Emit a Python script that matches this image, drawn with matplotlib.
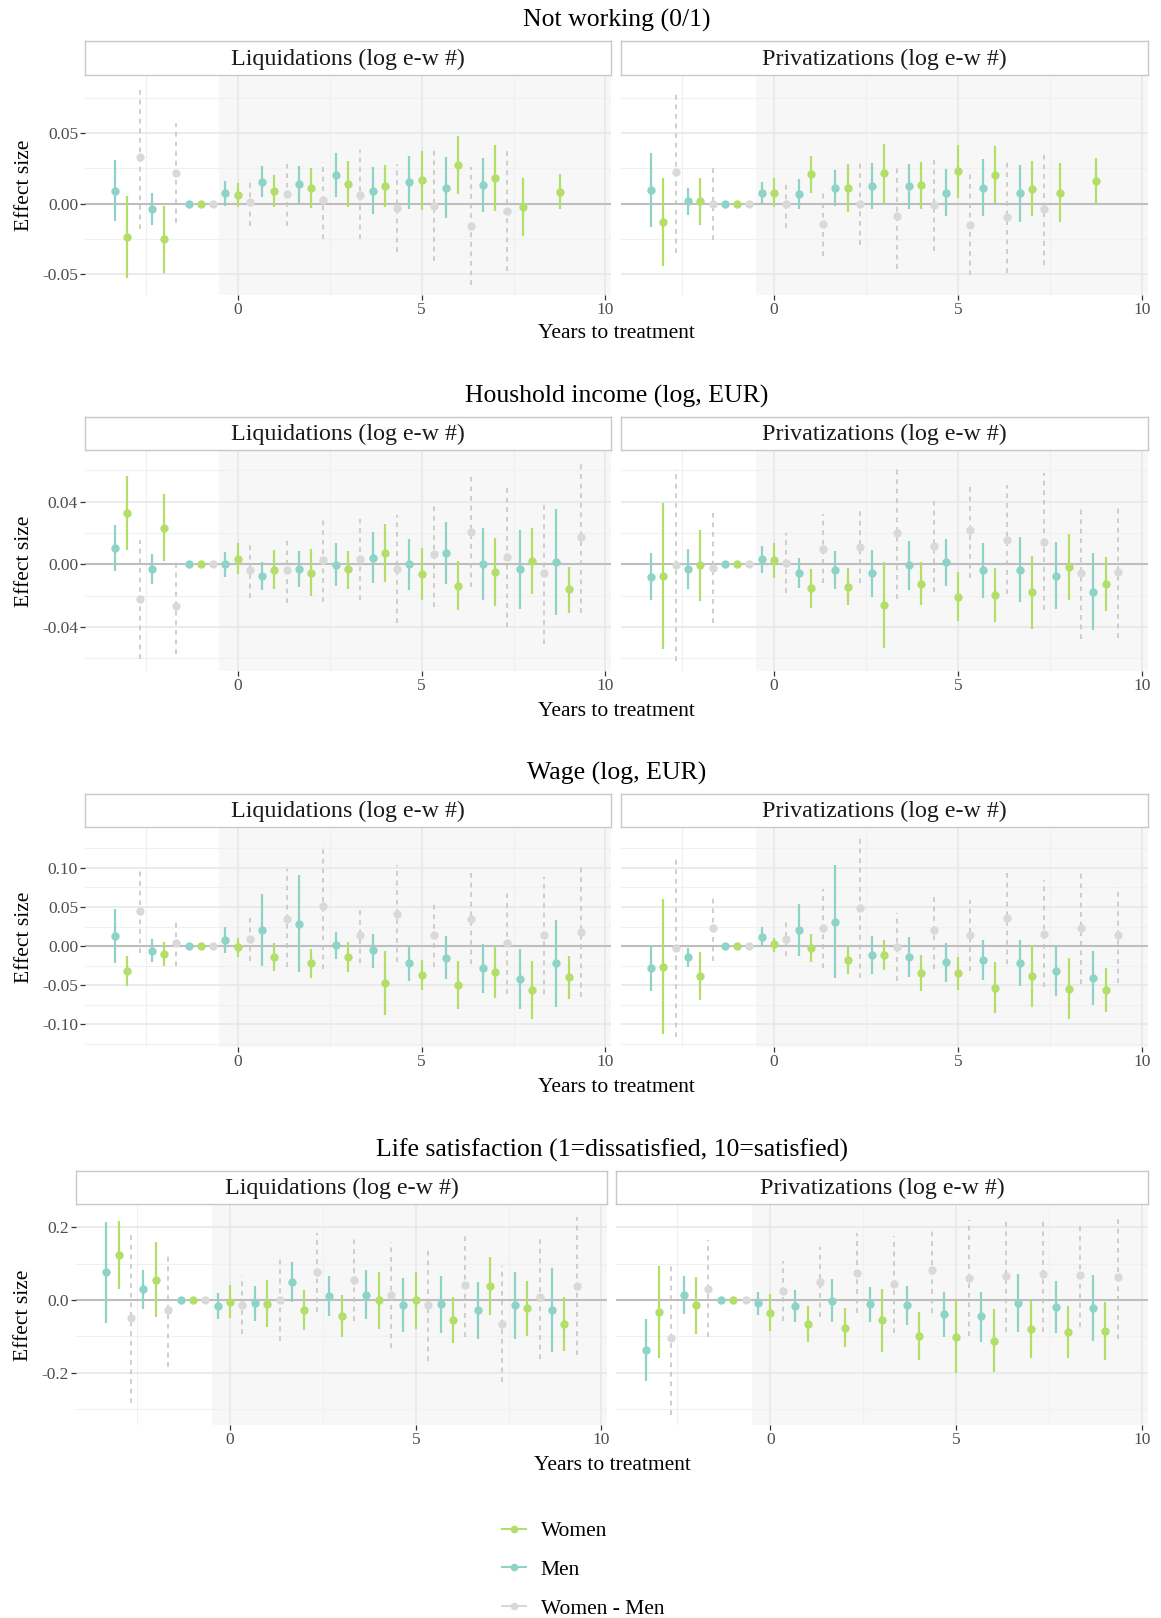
import numpy as np
import matplotlib
matplotlib.use('Agg')
import matplotlib.pyplot as plt
from matplotlib.patches import Rectangle
from matplotlib.lines import Line2D

plt.rcParams['font.family'] = ['Liberation Serif', 'DejaVu Serif']
plt.rcParams['axes.unicode_minus'] = False

NA = (np.nan, np.nan, np.nan)
event_time = list(range(-3, 10))

# (estimate, lower, upper) per event time -3..9; None = no row at that time
# Not working (0/1)
nw_liq_m = [(0.0093, -0.0121, 0.0306), (-0.0035, -0.015, 0.0077), (0, 0, 0), (0.0072, -0.0016, 0.0159),
            (0.0154, 0.0044, 0.0264), (0.0136, 0.0002, 0.0266), (0.0203, 0.0049, 0.0357), (0.0093, -0.007, 0.0259),
            (0.0152, -0.0035, 0.0339), (0.0114, -0.0098, 0.0329), (0.0133, -0.0058, 0.0325), None, None]
nw_liq_w = [(-0.0234, -0.0523, 0.0056), (-0.0252, -0.0488, -0.0016), (0, 0, 0), (0.0061, -0.0026, 0.0147),
            (0.0091, -0.0026, 0.0203), (0.0112, -0.0033, 0.0255), (0.014, -0.0026, 0.0299), (0.0124, -0.0026, 0.0271),
            (0.0166, -0.0044, 0.0374), (0.0271, 0.0068, 0.0477), (0.0182, -0.0051, 0.0418), (-0.0026, -0.0231, 0.0182),
            (0.0086, -0.004, 0.0213)]
nw_liq_d = [(0.0327, -0.018, 0.0832), (0.0217, -0.0133, 0.0568), (0, 0, 0), (0.0012, -0.0161, 0.0182),
            (0.0065, -0.0157, 0.0283), (0.0023, -0.025, 0.0292), (0.0063, -0.025, 0.0376), (-0.003, -0.0343, 0.0283),
            (-0.0014, -0.0407, 0.0381), (-0.0157, -0.0575, 0.0259), (-0.0051, -0.0477, 0.0376), NA, NA]
nw_pri_m = [(0.0096, -0.0166, 0.0357), (0.0016, -0.0082, 0.0112), (0, 0, 0), (0.0079, 0.0002, 0.0154),
            (0.007, -0.0037, 0.0171), (0.0114, -0.0014, 0.0241), (0.0126, -0.004, 0.029), (0.0124, -0.004, 0.0283),
            (0.0079, -0.0086, 0.0248), (0.0114, -0.0086, 0.0313), (0.0075, -0.0131, 0.0276), None, None]
nw_pri_w = [(-0.0129, -0.0437, 0.0178), (0.0016, -0.015, 0.0178), (0, 0, 0), (0.0079, -0.0021, 0.0182),
            (0.0208, 0.0079, 0.0336), (0.0114, -0.0056, 0.0283), (0.0215, 0.0002, 0.0425), (0.0133, -0.0037, 0.0297),
            (0.0231, 0.0042, 0.0418), (0.0206, 0.0002, 0.0407), (0.0107, -0.0086, 0.0304), (0.0079, -0.0131, 0.029),
            (0.0159, -0.0002, 0.0325)]
nw_pri_d = [(0.0224, -0.0348, 0.0797), (0.0, -0.0259, 0.0259), (0, 0, 0), (0.0, -0.0173, 0.0166),
            (-0.0143, -0.0371, 0.0084), (0.0, -0.0294, 0.0294), (-0.0089, -0.046, 0.0283), (-0.0009, -0.0336, 0.0313),
            (-0.015, -0.0507, 0.0208), (-0.0093, -0.0493, 0.0306), (-0.0037, -0.0435, 0.0357), NA, NA]

# Houshold income (log, EUR)
inc_liq_m = [(0.0102, -0.0045, 0.0249), (-0.003, -0.0126, 0.0064), (0, 0, 0), (0, -0.0081, 0.0079),
             (-0.0072, -0.0164, 0.0017), (-0.0028, -0.0143, 0.0087), (-0.0004, -0.0138, 0.0134), (0.0043, -0.0117, 0.0206),
             (0, -0.0164, 0.0162), (0.0074, -0.0123, 0.0272), (0, -0.0228, 0.0234), (-0.003, -0.0283, 0.0219),
             (0.0015, -0.0323, 0.0351)]
inc_liq_w = [(0.0328, 0.0094, 0.0562), (0.0234, 0.0021, 0.0447), (0, 0, 0), (0.0036, -0.0064, 0.0138),
             (-0.0034, -0.0155, 0.0089), (-0.0053, -0.0202, 0.0098), (-0.0032, -0.0155, 0.0087), (0.0074, -0.0111, 0.026),
             (-0.0062, -0.023, 0.0106), (-0.0136, -0.0291, 0.0021), (-0.0049, -0.0266, 0.0168), (0.0021, -0.0187, 0.023),
             (-0.016, -0.0309, -0.0015)]
inc_liq_d = [(-0.0223, -0.0602, 0.0153), (-0.0264, -0.0574, 0.0043), (0, 0, 0), (-0.0038, -0.0217, 0.0143),
             (-0.0038, -0.0249, 0.0172), (0.0028, -0.0238, 0.0287), (0.0032, -0.0228, 0.0287), (-0.003, -0.0377, 0.0313),
             (0.0064, -0.0272, 0.0389), (0.0209, -0.0143, 0.0564), (0.0049, -0.0398, 0.05), (-0.0053, -0.0511, 0.0404),
             (0.0174, -0.0309, 0.066)]
inc_pri_m = [(-0.0079, -0.0228, 0.007), (-0.0028, -0.0155, 0.0096), (0, 0, 0), (0.0032, -0.0053, 0.0117),
             (-0.0053, -0.0149, 0.0043), (-0.0034, -0.0155, 0.0085), (-0.0057, -0.0209, 0.0091), (-0.0004, -0.0164, 0.0149),
             (0.0013, -0.0138, 0.016), (-0.0034, -0.0213, 0.0138), (-0.0034, -0.024, 0.0172), (-0.0072, -0.0287, 0.0143),
             (-0.0174, -0.0419, 0.007)]
inc_pri_w = [(-0.0074, -0.0538, 0.0394), (-0.0006, -0.0234, 0.0219), (0, 0, 0), (0.0026, -0.0085, 0.0134),
             (-0.0153, -0.0277, -0.0028), (-0.0143, -0.0262, -0.0026), (-0.026, -0.0534, 0.0017), (-0.0123, -0.0262, 0.0015),
             (-0.0206, -0.0362, -0.0049), (-0.0196, -0.0368, -0.0021), (-0.0179, -0.0411, 0.0053), (-0.0019, -0.0228, 0.0191),
             (-0.0123, -0.0298, 0.0049)]
inc_pri_d = [(-0.0006, -0.0617, 0.0606), (-0.0023, -0.0372, 0.033), (0, 0, 0), (0.0006, -0.0185, 0.0198),
             (0.01, -0.0121, 0.0319), (0.0111, -0.0121, 0.0345), (0.0202, -0.0223, 0.0628), (0.0119, -0.0174, 0.0411),
             (0.0217, -0.0085, 0.0521), (0.0157, -0.0191, 0.0504), (0.0145, -0.0291, 0.0585), (-0.0053, -0.0474, 0.0372),
             (-0.0049, -0.0468, 0.0372)]

# Wage (log, EUR)
wage_liq_m = [(0.0131, -0.0216, 0.0479), (-0.0059, -0.0208, 0.0085), (0, 0, 0), (0.0081, -0.0089, 0.025),
              (0.0212, -0.025, 0.0669), (0.0284, -0.0335, 0.0903), (0.0008, -0.0165, 0.0186), (-0.0055, -0.0275, 0.0161),
              (-0.022, -0.0449, 0.0004), (-0.0148, -0.0419, 0.0123), (-0.0284, -0.0597, 0.0025), (-0.0424, -0.0809, -0.0038),
              (-0.022, -0.078, 0.0335)]
wage_liq_w = [(-0.0314, -0.0504, -0.0123), (-0.0097, -0.0258, 0.0055), (0, 0, 0), (-0.0017, -0.0136, 0.0102),
              (-0.014, -0.0314, 0.0038), (-0.022, -0.0411, -0.0038), (-0.014, -0.0326, 0.0047), (-0.0466, -0.0877, -0.0059),
              (-0.0369, -0.0555, -0.0178), (-0.0496, -0.0801, -0.0186), (-0.0326, -0.0665, 0.0004), (-0.0559, -0.0928, -0.0186),
              (-0.0398, -0.0674, -0.0131)]
wage_liq_d = [(0.0445, -0.0089, 0.0979), (0.0042, -0.0258, 0.0335), (0, 0, 0), (0.0089, -0.0195, 0.0373),
              (0.0352, -0.0271, 0.0979), (0.0508, -0.0292, 0.1309), (0.0144, -0.0216, 0.0513), (0.0415, -0.0208, 0.1038),
              (0.0144, -0.0271, 0.0555), (0.0347, -0.0229, 0.0928), (0.0042, -0.061, 0.0691), (0.0136, -0.061, 0.0886),
              (0.0178, -0.0653, 0.1013)]
wage_pri_m = [(-0.028, -0.0576, 0.0004), (-0.0144, -0.0271, -0.0025), (0, 0, 0), (0.0119, -0.0017, 0.025),
              (0.0203, -0.0131, 0.0542), (0.0314, -0.0411, 0.103), (-0.0114, -0.0356, 0.0123), (-0.014, -0.0398, 0.0119),
              (-0.0208, -0.0453, 0.0034), (-0.0174, -0.0432, 0.0081), (-0.0212, -0.0513, 0.0081), (-0.0318, -0.064, -0.0008),
              (-0.0411, -0.0758, -0.0068)]
wage_pri_w = [(-0.0263, -0.1119, 0.0597), (-0.0381, -0.0682, -0.008), (0, 0, 0), (0.0025, -0.0072, 0.011),
              (-0.0025, -0.0199, 0.0157), (-0.0174, -0.0356, -0.0008), (-0.011, -0.0301, 0.0081), (-0.0339, -0.0568, -0.0114),
              (-0.0343, -0.0555, -0.0136), (-0.0534, -0.0856, -0.0208), (-0.0377, -0.0771, 0.0017), (-0.0547, -0.0936, -0.0157),
              (-0.0555, -0.0835, -0.0284)]
wage_pri_d = [(-0.0021, -0.1161, 0.1127), (0.0237, -0.0186, 0.0661), (0, 0, 0), (0.0089, -0.0131, 0.0309),
              (0.0225, -0.0284, 0.0733), (0.0487, -0.0411, 0.1381), (-0.0008, -0.0441, 0.0419), (0.0203, -0.0292, 0.0691),
              (0.014, -0.0314, 0.0589), (0.0356, -0.0229, 0.0936), (0.0161, -0.0525, 0.0843), (0.0225, -0.0483, 0.0928),
              (0.0144, -0.047, 0.0758)]

# Life satisfaction
ls_liq_m = [(0.0771, -0.0624, 0.2156), (0.0294, -0.0257, 0.0826), (0, 0, 0), (-0.0165, -0.0523, 0.0183),
            (-0.0092, -0.0569, 0.0385), (0.0486, -0.0046, 0.1037), (0.0119, -0.044, 0.067), (0.0147, -0.0532, 0.0826),
            (-0.0138, -0.0881, 0.0596), (-0.0119, -0.0917, 0.067), (-0.0275, -0.1073, 0.0505), (-0.0147, -0.1083, 0.0761),
            (-0.0284, -0.1422, 0.0872)]
ls_liq_w = [(0.1248, 0.0294, 0.2183), (0.055, -0.0477, 0.1587), (0, 0, 0), (-0.0046, -0.0486, 0.0413),
            (-0.0101, -0.0752, 0.055), (-0.0275, -0.0826, 0.0275), (-0.045, -0.1028, 0.0138), (-0.0009, -0.0798, 0.078),
            (0, -0.0798, 0.078), (-0.0541, -0.1174, 0.0092), (0.0376, -0.0413, 0.1174), (-0.0229, -0.0982, 0.0523),
            (-0.0661, -0.1404, 0.0092)]
ls_liq_d = [(-0.0486, -0.2826, 0.1853), (-0.0275, -0.1853, 0.1303), (0, 0, 0), (-0.0138, -0.0936, 0.067),
            (0, -0.1128, 0.1128), (0.0771, -0.0321, 0.1853), (0.056, -0.0569, 0.1697), (0.0147, -0.133, 0.1606),
            (-0.0138, -0.167, 0.1394), (0.0413, -0.1028, 0.1853), (-0.0661, -0.2248, 0.0936), (0.0073, -0.1615, 0.1725),
            (0.0376, -0.1523, 0.2275)]
ls_pri_m = [(-0.1376, -0.222, -0.0523), (0.0147, -0.0385, 0.067), (0, 0, 0), (-0.0092, -0.0413, 0.0229),
            (-0.0165, -0.0615, 0.0275), (-0.0028, -0.0615, 0.0569), (-0.011, -0.0596, 0.0367), (-0.0147, -0.0688, 0.0385),
            (-0.0394, -0.1009, 0.0211), (-0.045, -0.1147, 0.0229), (-0.0092, -0.089, 0.0706), (-0.0183, -0.0899, 0.0532),
            (-0.0229, -0.1128, 0.0688)]
ls_pri_w = [(-0.0321, -0.1587, 0.0936), (-0.0147, -0.0945, 0.0642), (0, 0, 0), (-0.0349, -0.0853, 0.0165),
            (-0.0661, -0.1165, -0.0156), (-0.0761, -0.1303, -0.0229), (-0.055, -0.1422, 0.0294), (-0.0991, -0.1651, -0.0321),
            (-0.1009, -0.2, -0.0018), (-0.1119, -0.1991, -0.0257), (-0.0807, -0.1606, -0.0018), (-0.0872, -0.1587, -0.0156),
            (-0.0853, -0.1651, -0.0046)]
ls_pri_d = [(-0.1055, -0.3165, 0.1055), (0.0303, -0.1028, 0.1651), (0, 0, 0), (0.0248, -0.0569, 0.1083),
            (0.0495, -0.0459, 0.145), (0.0743, -0.0367, 0.1853), (0.044, -0.0899, 0.1761), (0.0826, -0.0367, 0.2018),
            (0.0615, -0.0991, 0.2202), (0.0661, -0.0872, 0.2202), (0.0716, -0.0872, 0.2294), (0.0688, -0.0752, 0.211),
            (0.0633, -0.1083, 0.2339)]

row_titles = ['Not working (0/1)', 'Houshold income (log, EUR)', 'Wage (log, EUR)',
              'Life satisfaction (1=dissatisfied, 10=satisfied)']
strip_labels = ['Liquidations (log e-w #)', 'Privatizations (log e-w #)']
row_panels = [
    [(nw_liq_m, nw_liq_w, nw_liq_d), (nw_pri_m, nw_pri_w, nw_pri_d)],
    [(inc_liq_m, inc_liq_w, inc_liq_d), (inc_pri_m, inc_pri_w, inc_pri_d)],
    [(wage_liq_m, wage_liq_w, wage_liq_d), (wage_pri_m, wage_pri_w, wage_pri_d)],
    [(ls_liq_m, ls_liq_w, ls_liq_d), (ls_pri_m, ls_pri_w, ls_pri_d)],
]
y_major = [[-0.05, 0, 0.05], [-0.04, 0, 0.04], [-0.10, -0.05, 0, 0.05, 0.10], [-0.2, 0, 0.2]]
y_minor = [[-0.075, -0.025, 0.025, 0.075], [-0.06, -0.02, 0.02, 0.06],
           [-0.125, -0.075, -0.025, 0.025, 0.075, 0.125], [-0.3, -0.1, 0.1]]
y_fmt = ['{:.2f}', '{:.2f}', '{:.2f}', '{:.1f}']

series_names = ['Men', 'Women', 'Women - Men']
point_colors = ['#8DD3C7', '#B3DE69', '#D9D9D9']
line_colors = ['#8DD3C7', '#B3DE69', '#c4c4c4']
line_styles = ['solid', 'solid', (0, (3, 3))]

W, H = 1161, 1618
fig = plt.figure(figsize=(W / 100, H / 100), dpi=100)


def px_axes(x0, y0, x1, y1):
    return fig.add_axes([x0 / W, 1 - y1 / H, (x1 - x0) / W, (y1 - y0) / H])


# pixel layout of each row: title y, strip top, panel top, panel bottom, xlabel y
rows_px = [(20, 41, 76, 295, 333), (396, 417, 451, 671, 711),
           (773, 794, 828, 1047, 1088), (1150, 1171, 1205, 1425, 1465)]
cols_px = [[(85, 611), (621, 1148)], [(85, 611), (621, 1148)],
           [(85, 611), (621, 1148)], [(76, 607), (616, 1148)]]

xlo, xhi = -3.5, 9.5
xpad = 0.05 * (xhi - xlo)

for r in range(4):
    ty, st, pt, pb, xl = rows_px[r]
    allv = []
    for panel in row_panels[r]:
        for s in panel:
            for v in s:
                if v is not None and not np.isnan(v[0]):
                    allv += [v[1], v[2]]
    ymin, ymax = min(allv), max(allv)
    ypad = 0.05 * (ymax - ymin)

    for c in range(2):
        x0, x1 = cols_px[r][c]
        ax = px_axes(x0, pt, x1, pb)
        ax.set_xlim(xlo - xpad, xhi + xpad)
        ax.set_ylim(ymin - ypad, ymax + ypad)
        for sp in ax.spines.values():
            sp.set_visible(False)
        ax.set_axisbelow(True)
        ax.add_patch(Rectangle((-0.5, -10), 100, 20, facecolor='#f7f7f7', edgecolor='none', zorder=0.2))
        for xv in [-2.5, 2.5, 7.5]:
            ax.axvline(xv, color='#f0f0f0', lw=0.8, zorder=0.3)
        for yv in y_minor[r]:
            ax.axhline(yv, color='#f0f0f0', lw=0.8, zorder=0.3)
        for xv in [0, 5, 10]:
            ax.axvline(xv, color='#e8e8e8', lw=1.2, zorder=0.35)
        for yv in y_major[r]:
            ax.axhline(yv, color='#e8e8e8', lw=1.2, zorder=0.35)
        ax.axhline(0, color='#bebebe', lw=1.5, zorder=0.4)

        ax.set_xticks([0, 5, 10])
        ax.set_xticklabels(['0', '5', '10'], fontsize=12.5, color='#4d4d4d')
        ax.tick_params(axis='x', length=3.5, width=0.9, color='#333333', pad=1.5)
        ax.set_yticks(y_major[r])
        if c == 0:
            ax.set_yticklabels([y_fmt[r].format(v) for v in y_major[r]], fontsize=12.5, color='#4d4d4d')
            ax.tick_params(axis='y', length=3.5, width=0.9, color='#333333', pad=1.5)
            ax.set_ylabel('Effect size', fontsize=15.5, labelpad=6)
        else:
            ax.tick_params(axis='y', length=0, labelleft=False)

        panel = row_panels[r][c]
        for i, t in enumerate(event_time):
            present = [k for k in range(3) if panel[k][i] is not None]
            n = len(present)
            for j, k in enumerate(present):
                est, lo, hi = panel[k][i]
                if np.isnan(est):
                    continue
                x = t - 0.5 + (j + 0.5) / n
                ax.vlines(x, lo, hi, color=line_colors[k], lw=1.6 if k < 2 else 1.15,
                          linestyles=line_styles[k], zorder=2)
                ax.plot(x, est, 'o', ms=6, color=point_colors[k], mec='none', zorder=3)

        # strip
        sax = px_axes(x0, st, x1, pt - 1)
        sax.set_xticks([])
        sax.set_yticks([])
        for sp in sax.spines.values():
            sp.set_color('#c8c8c8')
            sp.set_linewidth(1.0)
        sax.text(0.5, 0.47, strip_labels[c], ha='center', va='center', fontsize=17.3, color='#1a1a1a',
                 transform=sax.transAxes)

    xc = (cols_px[r][0][0] + cols_px[r][1][1]) / 2 / W
    fig.text(xc, 1 - ty / H, row_titles[r], ha='center', va='center', fontsize=18.5)
    fig.text(xc, 1 - xl / H, 'Years to treatment', ha='center', va='center', fontsize=15.5)

handles = [Line2D([0], [0], color=point_colors[k], lw=1.5, marker='o', ms=5.5, mec='none')
           for k in [1, 0, 2]]
fig.legend(handles, [series_names[k] for k in [1, 0, 2]], loc='upper left',
           bbox_to_anchor=(502 / W, 1 - 1521 / H), frameon=False, fontsize=15.5,
           handlelength=1.1, handletextpad=0.7, labelspacing=0.87, borderpad=0, borderaxespad=0)

fig.savefig('out.png', dpi=100, facecolor='white')
